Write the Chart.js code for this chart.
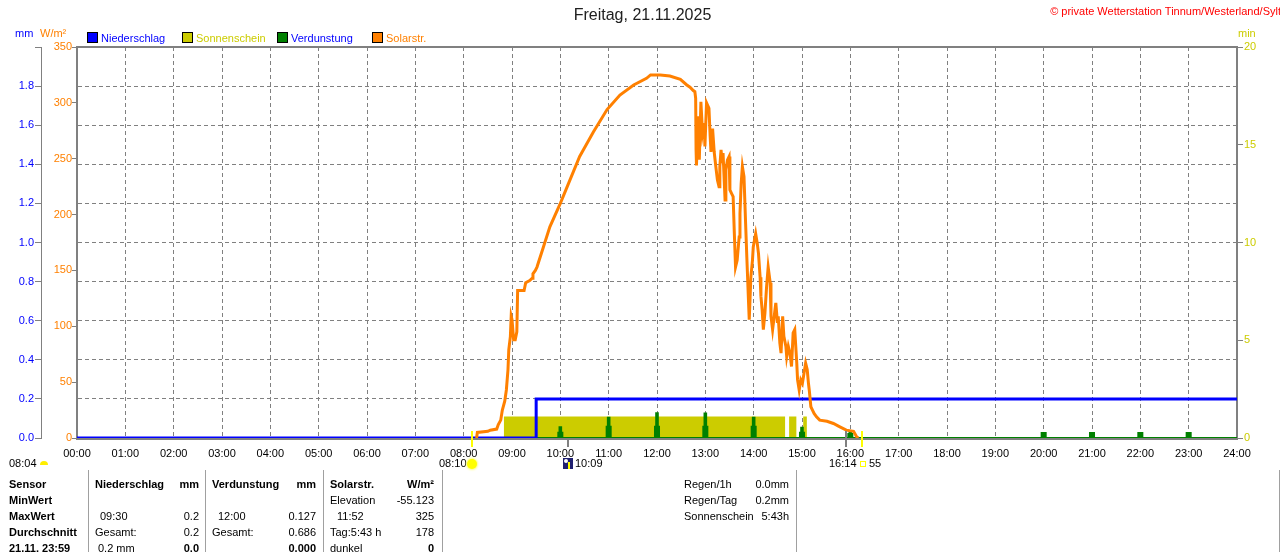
<!DOCTYPE html>
<html lang="de">
<head>
<meta charset="utf-8">
<title>Freitag, 21.11.2025</title>
<script src="https://cdn.jsdelivr.net/npm/chart.js@4.4.1/dist/chart.umd.min.js"></script>
<style>
  html, body { margin: 0; padding: 0; background: #fff; }
  body { width: 1280px; height: 552px; overflow: hidden; position: relative;
         font-family: "Liberation Sans", Arial, sans-serif; font-size: 11px; color: #000; }
  #chart { position: absolute; left: 0; top: 0; }
  .t { position: absolute; white-space: nowrap; line-height: 13px; }
  .b { font-weight: bold; }
  .sq { position: absolute; width: 9px; height: 9px; border: 1px solid #000; top: 32px; }
  .vl { position: absolute; width: 1px; top: 470px; height: 82px; background: #a0a0a0; }
</style>
</head>
<body>
<canvas id="chart" width="1280" height="552"></canvas>

<!-- header -->
<div class="t" style="left:0;width:1285px;text-align:center;top:6px;font-size:16px;line-height:18px;color:#202020">Freitag, 21.11.2025</div>
<div class="t" style="right:-1px;top:5px;color:#ff0000">© private Wetterstation Tinnum/Westerland/Sylt</div>

<div class="t" style="left:15px;top:27px;color:#0000ff">mm</div>
<div class="t" style="left:40px;top:27px;color:#ff8000">W/m²</div>
<div class="t" style="left:1238px;top:27px;color:#cccc00">min</div>

<div class="sq" style="left:87px;background:#0000ff"></div>
<div class="t" style="left:101px;top:32px;color:#0000ff">Niederschlag</div>
<div class="sq" style="left:182px;background:#cccc00"></div>
<div class="t" style="left:196px;top:32px;color:#cccc00">Sonnenschein</div>
<div class="sq" style="left:277px;background:#008000"></div>
<div class="t" style="left:291px;top:32px;color:#0000ff">Verdunstung</div>
<div class="sq" style="left:372px;background:#ff8000"></div>
<div class="t" style="left:386px;top:32px;color:#ff8000">Solarstr.</div>

<!-- sun / moon row -->
<div class="t" style="left:9px;top:457px">08:04</div>
<div style="position:absolute;left:40px;top:461px;width:8px;height:4px;background:#ffee00;border-radius:4px 4px 0 0"></div>
<div class="t" style="left:439px;top:457px">08:10</div>
<div style="position:absolute;left:467px;top:459px;width:10px;height:10px;background:#ffff00;border-radius:5px;box-shadow:0 0 2px 1px #ffff80"></div>
<div style="position:absolute;left:563px;top:458px;width:10px;height:11px;background:#202070"></div>
<div style="position:absolute;left:564px;top:459px;width:4px;height:4px;background:#fff;border-radius:2px"></div>
<div style="position:absolute;left:568px;top:462px;width:2px;height:7px;background:#ffff00"></div>
<div class="t" style="left:575px;top:457px">10:09</div>
<div class="t" style="left:829px;top:457px">16:14</div>
<div style="position:absolute;left:860px;top:461px;width:4px;height:4px;border:1px solid #ffff00"></div>
<div class="t" style="left:869px;top:457px">55</div>

<!-- table -->
<div class="vl" style="left:88px"></div>
<div class="vl" style="left:205px"></div>
<div class="vl" style="left:323px"></div>
<div class="vl" style="left:442px"></div>
<div class="vl" style="left:796px"></div>
<div class="vl" style="left:1279px"></div>

<div class="t b" style="left:9px;top:478px">Sensor</div>
<div class="t b" style="left:9px;top:494px">MinWert</div>
<div class="t b" style="left:9px;top:510px">MaxWert</div>
<div class="t b" style="left:9px;top:526px">Durchschnitt</div>
<div class="t b" style="left:9px;top:542px">21.11. 23:59</div>

<div class="t b" style="left:95px;top:478px">Niederschlag</div>
<div class="t b" style="right:1081px;top:478px">mm</div>
<div class="t" style="left:100px;top:510px">09:30</div>
<div class="t" style="right:1081px;top:510px">0.2</div>
<div class="t" style="left:95px;top:526px">Gesamt:</div>
<div class="t" style="right:1081px;top:526px">0.2</div>
<div class="t" style="left:98px;top:542px">0.2 mm</div>
<div class="t b" style="right:1081px;top:542px">0.0</div>

<div class="t b" style="left:212px;top:478px">Verdunstung</div>
<div class="t b" style="right:964px;top:478px">mm</div>
<div class="t" style="left:218px;top:510px">12:00</div>
<div class="t" style="right:964px;top:510px">0.127</div>
<div class="t" style="left:212px;top:526px">Gesamt:</div>
<div class="t" style="right:964px;top:526px">0.686</div>
<div class="t b" style="right:964px;top:542px">0.000</div>

<div class="t b" style="left:330px;top:478px">Solarstr.</div>
<div class="t b" style="right:846px;top:478px">W/m²</div>
<div class="t" style="left:330px;top:494px">Elevation</div>
<div class="t" style="right:846px;top:494px">-55.123</div>
<div class="t" style="left:337px;top:510px">11:52</div>
<div class="t" style="right:846px;top:510px">325</div>
<div class="t" style="left:330px;top:526px">Tag:5:43 h</div>
<div class="t" style="right:846px;top:526px">178</div>
<div class="t" style="left:330px;top:542px">dunkel</div>
<div class="t b" style="right:846px;top:542px">0</div>

<div class="t" style="left:684px;top:478px">Regen/1h</div>
<div class="t" style="right:491px;top:478px">0.0mm</div>
<div class="t" style="left:684px;top:494px">Regen/Tag</div>
<div class="t" style="right:491px;top:494px">0.2mm</div>
<div class="t" style="left:684px;top:510px">Sonnenschein</div>
<div class="t" style="right:491px;top:510px">5:43h</div>

<script>
// times are minutes after midnight

// Niederschlag, cumulative mm
const rainTimes  = [0, 570, 1440];
const rainValues = [0, 0.2, 0.2];

// Sonnenschein, min per minute
const sunTimes  = [0, 530, 879, 884, 893, 901.5, 906, 1440];
const sunValues = [0, 1.1, 0,   1.1, 0,   1.1,   0,   0];

// Verdunstung, hourly spikes in mm
const evapHours = [10,    11,    12,    13,    14,    15,    16,    20,    21,    22,    23];
const evapPeak  = [0.055, 0.104, 0.127, 0.125, 0.104, 0.053, 0.032, 0.025, 0.025, 0.025, 0.025];
const evapLow   = [0.027, 0.058, 0.058, 0.058, 0.058, 0.027, 0.02,  0.025, 0.025, 0.025, 0.025];

// Solarstrahlung W/m²
const solarTimes = [
  496, 497, 510, 513, 521, 523, 526, 528, 531, 533, 535, 536, 538, 539, 540, 542, 544, 546, 547, 555,
  557, 562, 565, 566, 569, 571, 579, 587, 600, 612, 624, 641, 658, 674, 691, 707, 712, 724, 736, 749,
  757, 761, 765, 767, 768, 768.5, 769, 771, 772.5, 774.5, 776.5, 778.5, 779.5, 781.5, 784.5, 786, 787, 789, 791, 793,
  795, 797, 798, 799.5, 801, 802, 804.5, 805.5, 807.5, 809.5, 810.5, 812.5, 814.5, 816, 817.5, 819.5, 822, 823, 824.5, 826,
  828, 830, 831.5, 833.5, 834.5, 836.5, 838.5, 839.5, 842.5, 844.5, 846, 848, 849, 850.5, 852, 854, 856, 858, 860.5, 861.5,
  863.5, 865.5, 867.5, 869.5, 870.5, 872.5, 874, 876, 877.5, 880, 881, 883, 885, 887, 889, 891, 893.5, 894.5, 896.5, 898.5,
  900.5, 902.5, 904.5, 906.5, 908, 909, 911, 913, 915, 918, 922, 931, 939, 947, 955, 964, 968, 970
];
const solarValues = [
  0, 5, 6, 7, 8, 12, 16, 25, 33, 43, 61, 79, 91, 109, 106, 88, 88, 95, 132, 132,
  139, 141, 143, 147, 150, 153, 171, 189, 210, 231, 252, 274, 294, 307, 316, 322, 325, 325, 324, 321,
  316, 314, 311, 310, 304, 258, 244, 288, 249, 301, 273, 282, 261, 300, 295, 270, 256, 277, 256, 243,
  231, 225, 243, 258, 246, 255, 213, 240, 249, 252, 222, 219, 216, 183, 153, 159, 180, 201, 228, 243,
  234, 192, 162, 124, 106, 144, 159, 171, 183, 174, 165, 144, 127, 115, 97, 112, 135, 153, 139, 109,
  97, 109, 121, 103, 109, 85, 76, 109, 91, 82, 73, 82, 76, 64, 94, 97, 67, 52, 43, 52,
  49, 58, 67, 61, 49, 43, 28, 25, 22, 19, 16, 15, 13, 10, 7, 6, 1, 0
];

// Sonnenaufgang / -untergang, Mondaufgang
const sunrise = 490, sunset = 974;
const moonMarks = [609, 955];

const pts = (xs, ys) => xs.map((x, i) => ({ x, y: ys[i] }));

function evapPoints() {
  const out = [{ x: 0, y: 0 }];
  evapHours.forEach((h, i) => {
    const m = h * 60;
    out.push({ x: m - 2.5, y: evapLow[i] }, { x: m - 1, y: evapPeak[i] },
             { x: m + 1, y: evapLow[i] }, { x: m + 2.5, y: 0 });
  });
  out.push({ x: 1440, y: 0 });
  return out;
}

const FONT = { family: '"Liberation Sans", Arial, sans-serif', size: 11 };
const GRID = '#808080';

const framePlugin = {
  id: 'frame',
  beforeDatasetsDraw(chart) {
    const { ctx, chartArea: a } = chart;
    ctx.save();
    ctx.strokeStyle = GRID;
    ctx.lineWidth = 2;
    // bottom edge sits 1px lower so the green zero line stays visible above it
    ctx.strokeRect(a.left, a.top, a.right - a.left, a.bottom - a.top + 1);
    ctx.restore();
  },
  afterDatasetsDraw(chart) {
    const { ctx, chartArea: a, scales } = chart;
    ctx.save();
    ctx.lineWidth = 2;
    ctx.strokeStyle = '#ffff00';
    [sunrise, sunset].forEach(t => {
      const px = Math.round(scales.x.getPixelForValue(t));
      ctx.beginPath(); ctx.moveTo(px, a.bottom - 7); ctx.lineTo(px, a.bottom + 9); ctx.stroke();
    });
    ctx.strokeStyle = GRID;
    moonMarks.forEach((t, i) => {
      const px = Math.round(scales.x.getPixelForValue(t));
      ctx.beginPath(); ctx.moveTo(px, a.bottom - (i ? 7 : 0)); ctx.lineTo(px, a.bottom + 9); ctx.stroke();
    });
    ctx.restore();
  }
};

new Chart(document.getElementById('chart'), {
  type: 'line',
  data: {
    datasets: [
      {
        label: 'Solarstr.', data: pts(solarTimes, solarValues), yAxisID: 'yW', order: 0,
        borderColor: '#ff8000', borderWidth: 3, pointRadius: 0, tension: 0
      },
      {
        label: 'Niederschlag', data: pts(rainTimes, rainValues), yAxisID: 'yMM', order: 1,
        borderColor: '#0000ff', borderWidth: 3, pointRadius: 0, stepped: true
      },
      {
        label: 'Verdunstung', data: evapPoints(), yAxisID: 'yMM', order: 2,
        borderColor: '#008000', backgroundColor: '#008000', borderWidth: 2, pointRadius: 0,
        stepped: true, fill: 'origin'
      },
      {
        label: 'Sonnenschein', data: pts(sunTimes, sunValues), yAxisID: 'yMin', order: 3,
        borderColor: '#cccc00', backgroundColor: '#cccc00', borderWidth: 0, pointRadius: 0,
        stepped: true, fill: 'origin'
      }
    ]
  },
  options: {
    responsive: false,
    animation: false,
    devicePixelRatio: 1,
    layout: { padding: { top: 47, left: 0, right: 0, bottom: 0 } },
    plugins: { legend: { display: false }, tooltip: { enabled: false } },
    scales: {
      x: {
        type: 'linear', min: 0, max: 1440,
        afterFit: s => { s.height = 114; },
        ticks: {
          stepSize: 60, autoSkip: false, maxRotation: 0, maxTicksLimit: 30,
          color: '#000', font: FONT, padding: 9,
          callback: v => String(v / 60).padStart(2, '0') + ':00'
        },
        grid: { color: GRID, drawTicks: false },
        border: { display: false, dash: [4, 3] }
      },
      yMM: {
        position: 'left', weight: 2, min: 0, max: 2,
        afterFit: s => { s.width = 41; },
        ticks: {
          stepSize: 0.2, color: '#0000ff', font: FONT, padding: 1,
          callback: v => v > 1.99 ? '' : v.toFixed(1)
        },
        grid: { color: GRID, tickLength: 6, tickColor: GRID },
        border: { display: true, color: GRID, width: 1, dash: [4, 3] }
      },
      yW: {
        position: 'left', weight: 1, min: 0, max: 350,
        afterFit: s => { s.width = 36; },
        ticks: { stepSize: 50, color: '#ff8000', font: FONT, padding: 0 },
        grid: { drawOnChartArea: false, tickLength: 5, tickColor: GRID },
        border: { display: false }
      },
      yMin: {
        position: 'right', min: 0, max: 20,
        afterFit: s => { s.width = 43; },
        ticks: { stepSize: 5, color: '#cccc00', font: FONT, padding: 1 },
        grid: { drawOnChartArea: false, tickLength: 6, tickColor: GRID },
        border: { display: false }
      }
    }
  },
  plugins: [framePlugin]
});
</script>
</body>
</html>
